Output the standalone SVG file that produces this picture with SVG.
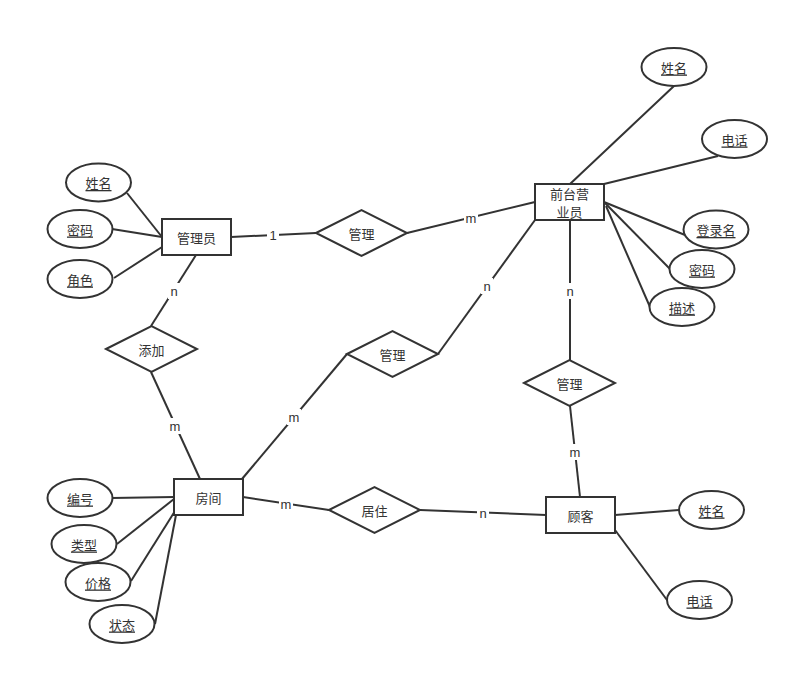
<svg xmlns="http://www.w3.org/2000/svg" width="799" height="675" viewBox="0 0 799 675">
<style>
.e{fill:#fff;stroke:#333;stroke-width:2}
.r{fill:#fff;stroke:#333;stroke-width:2}
.d{fill:#fff;stroke:#333;stroke-width:2}
.c line{stroke:#333;stroke-width:2}
text{font-family:"Noto Sans CJK SC","Liberation Sans",sans-serif;font-size:13px;fill:#333;text-anchor:middle;dominant-baseline:central}
.l{font-family:"Liberation Sans","Noto Sans CJK SC",sans-serif}
.u{text-decoration:underline}
.lb{fill:#fff;stroke:none}
</style>
<rect width="799" height="675" fill="#fff"/>
<g class="c" id="connectors">
<line x1="127" y1="193" x2="162" y2="237"/>
<line x1="112" y1="229" x2="162" y2="237"/>
<line x1="114" y1="278" x2="162" y2="247"/>
<line x1="231" y1="237" x2="316" y2="233"/>
<line x1="407" y1="233" x2="535" y2="202"/>
<line x1="196" y1="255" x2="151" y2="326"/>
<line x1="151" y1="372" x2="200" y2="479"/>
<line x1="242" y1="479" x2="347" y2="354"/>
<line x1="438" y1="354" x2="535" y2="220"/>
<line x1="570" y1="220" x2="570" y2="360"/>
<line x1="570" y1="406" x2="580" y2="497"/>
<line x1="243" y1="497" x2="329" y2="510"/>
<line x1="420" y1="510" x2="546" y2="515"/>
<line x1="674" y1="86" x2="570" y2="184"/>
<line x1="718" y1="156" x2="604" y2="184"/>
<line x1="604" y1="202" x2="685" y2="235"/>
<line x1="605" y1="203" x2="670" y2="269"/>
<line x1="606" y1="206" x2="650" y2="307"/>
<line x1="112" y1="498" x2="174" y2="497"/>
<line x1="117" y1="544" x2="174" y2="499"/>
<line x1="131" y1="581" x2="175" y2="511"/>
<line x1="155" y1="624" x2="176" y2="515"/>
<line x1="615" y1="515" x2="679" y2="510"/>
<line x1="615" y1="530" x2="667" y2="600"/>
<rect class="lb" x="267" y="227" width="12" height="16"/><text class="l" x="273" y="235">1</text>
<rect class="lb" x="464" y="210" width="14" height="16"/><text class="l" x="471" y="218">m</text>
<rect class="lb" x="168" y="283" width="12" height="16"/><text class="l" x="174" y="291">n</text>
<rect class="lb" x="168" y="418" width="14" height="16"/><text class="l" x="175" y="426">m</text>
<rect class="lb" x="287" y="409" width="14" height="16"/><text class="l" x="294" y="417">m</text>
<rect class="lb" x="481" y="278" width="12" height="16"/><text class="l" x="487" y="286">n</text>
<rect class="lb" x="564" y="283" width="12" height="16"/><text class="l" x="570" y="291">n</text>
<rect class="lb" x="568" y="444" width="14" height="16"/><text class="l" x="575" y="452">m</text>
<rect class="lb" x="279" y="496" width="14" height="16"/><text class="l" x="286" y="504">m</text>
<rect class="lb" x="477" y="505" width="12" height="16"/><text class="l" x="483" y="513">n</text>
</g>
<g id="admin"><rect class="r" x="162" y="219" width="69" height="36"/><text x="196.5" y="237">管理员</text></g>
<g id="staff"><rect class="r" x="535" y="184" width="69" height="36"/><text x="569.5" y="193" font-size="12">前台营</text><text x="569.5" y="211" font-size="12">业员</text></g>
<g id="room"><rect class="r" x="174" y="479" width="69" height="36"/><text x="208.5" y="497">房间</text></g>
<g id="customer"><rect class="r" x="546" y="497" width="69" height="36"/><text x="580.5" y="515">顾客</text></g>
<g id="rel-manage1"><polygon class="d" points="316,233 361.5,210 407,233 361.5,256"/><text x="361.5" y="233">管理</text></g>
<g id="rel-add"><polygon class="d" points="106,349 151.5,326 197,349 151.5,372"/><text x="151.5" y="349">添加</text></g>
<g id="rel-manage2"><polygon class="d" points="347,354 392.5,331 438,354 392.5,377"/><text x="392.5" y="354">管理</text></g>
<g id="rel-manage3"><polygon class="d" points="524,383 569.5,360 615,383 569.5,406"/><text x="569.5" y="383">管理</text></g>
<g id="rel-live"><polygon class="d" points="329,510 374.5,487 420,510 374.5,533"/><text x="374.5" y="510">居住</text></g>
<g id="a-admin-name"><ellipse class="e" cx="98.5" cy="182.5" rx="32.5" ry="19"/><text class="u" x="98.5" y="182.5">姓名</text></g>
<g id="a-admin-pwd"><ellipse class="e" cx="80" cy="229" rx="32.5" ry="19"/><text class="u" x="80" y="229">密码</text></g>
<g id="a-admin-role"><ellipse class="e" cx="80" cy="279" rx="32.5" ry="19"/><text class="u" x="80" y="279">角色</text></g>
<g id="a-staff-name"><ellipse class="e" cx="674" cy="67" rx="32.5" ry="19"/><text class="u" x="674" y="67">姓名</text></g>
<g id="a-staff-tel"><ellipse class="e" cx="734.5" cy="139" rx="32.5" ry="19"/><text class="u" x="734.5" y="139">电话</text></g>
<g id="a-staff-login"><ellipse class="e" cx="716" cy="229.5" rx="32.5" ry="19"/><text class="u" x="716" y="229.5">登录名</text></g>
<g id="a-staff-pwd"><ellipse class="e" cx="702" cy="269" rx="32.5" ry="19"/><text class="u" x="702" y="269">密码</text></g>
<g id="a-staff-desc"><ellipse class="e" cx="682" cy="307" rx="32.5" ry="19"/><text class="u" x="682" y="307">描述</text></g>
<g id="a-room-no"><ellipse class="e" cx="80" cy="498" rx="32.5" ry="19"/><text class="u" x="80" y="498">编号</text></g>
<g id="a-room-type"><ellipse class="e" cx="84" cy="544" rx="32.5" ry="19"/><text class="u" x="84" y="544">类型</text></g>
<g id="a-room-price"><ellipse class="e" cx="98" cy="582" rx="32.5" ry="19"/><text class="u" x="98" y="582">价格</text></g>
<g id="a-room-state"><ellipse class="e" cx="122" cy="624" rx="32.5" ry="19"/><text class="u" x="122" y="624">状态</text></g>
<g id="a-cust-name"><ellipse class="e" cx="711.5" cy="510" rx="32.5" ry="19"/><text class="u" x="711.5" y="510">姓名</text></g>
<g id="a-cust-tel"><ellipse class="e" cx="699.5" cy="600" rx="32.5" ry="19"/><text class="u" x="699.5" y="600">电话</text></g>
</svg>
